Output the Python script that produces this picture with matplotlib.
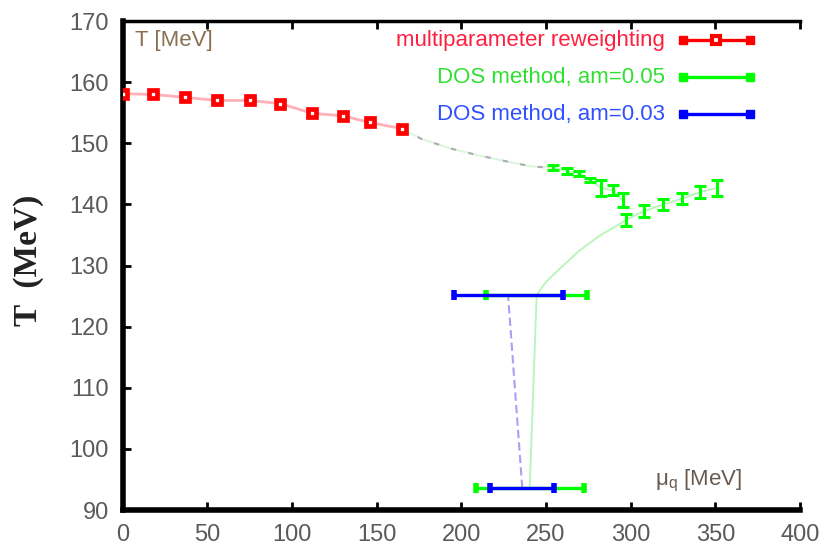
import matplotlib.pyplot as plt

# multiparameter reweighting
mu_rw = [0, 18, 37, 56, 75, 93, 112, 130, 146, 165]
T_rw = [158.1, 158.0, 157.5, 157.0, 157.0, 156.5, 154.9, 154.5, 153.4, 152.4]

# DOS method, am=0.05 (vertical errors)
mu_dos5 = [254.2, 262.5, 269.6, 275.9, 282.4, 289.6, 295.2, 297.2, 308.0, 319.2, 330.1, 341.0, 351.0]
T_dos5 = [146.0, 145.5, 145.0, 144.0, 142.7, 142.3, 140.7, 137.5, 138.9, 140.0, 140.9, 142.0, 142.7]
dT_dos5 = [0.4, 0.45, 0.4, 0.4, 1.3, 0.8, 1.2, 1.0, 1.0, 0.9, 0.9, 1.0, 1.3]

# points with horizontal errors
mu_h5 = [244.5, 240.4]
T_h5 = [125.2, 93.6]
dmu_h5 = [30.0, 32.0]
mu_h3 = [227.6, 236.0]
T_h3 = [125.2, 93.6]
dmu_h3 = [32.2, 18.8]

# guide lines
mu_link = [165, 176.5, 194.3, 209, 225.7, 241.5, 254.2]
T_link = [152.4, 150.7, 149.1, 148.1, 147.1, 146.2, 146.0]
mu_curve = [250.0, 258.2, 270.0, 281.8, 293.6]
T_curve = [127.3, 129.5, 132.5, 134.9, 136.8]

plt.rcParams['font.family'] = ['Liberation Sans', 'DejaVu Sans']

fig = plt.figure(figsize=(8.25, 5.49), dpi=100)
ax = fig.add_axes([0.1486, 0.071, 0.8211, 0.8907])

RED, GREEN, BLUE = '#ff0000', '#00ff00', '#0000ff'

# connecting lines
ax.plot(mu_rw, T_rw, color='#ffb0b8', lw=2, zorder=1)
ax.plot(mu_link, T_link, color='#dcf6dc', lw=1.5, zorder=1)
ax.plot(mu_link, T_link, color='#b4a8b8', lw=1.5, dashes=(2.5, 6), zorder=1)
ax.plot(mu_dos5[:7], T_dos5[:7], color='#c0f8c0', lw=1.5, zorder=1)
lower_mu = [mu_h5[1], mu_h5[0]] + mu_curve + mu_dos5[7:]
lower_T = [T_h5[1], T_h5[0]] + T_curve + T_dos5[7:]
ax.plot(lower_mu, lower_T, color='#b8f4b8', lw=1.3, zorder=1)
ax.plot([mu_h3[1], mu_h3[0]], [T_h3[1], T_h3[0]], color='#a8a0f4', lw=1.5,
        dashes=(4, 2), zorder=1)

# data
ax.errorbar(mu_dos5, T_dos5, yerr=dT_dos5, fmt='none', ecolor=GREEN,
            elinewidth=2.2, capsize=4.5, capthick=2.2, zorder=3)
ax.errorbar(mu_h5, T_h5, xerr=dmu_h5, fmt='none', ecolor=GREEN,
            elinewidth=2.4, capsize=3.5, capthick=4, zorder=3)
ax.errorbar(mu_h3, T_h3, xerr=dmu_h3, fmt='none', ecolor=BLUE,
            elinewidth=2.4, capsize=3.5, capthick=4, zorder=4)
ax.plot(mu_rw, T_rw, 's', ms=5.5, mfc='white', mec=RED, mew=3.4, zorder=5)

ax.set_xlim(0, 400)
ax.set_ylim(90, 170)
ax.set_xticks(range(0, 401, 50))
ax.set_yticks(range(90, 171, 10))
ax.tick_params(direction='in', length=6, width=2, labelsize=17,
               labelcolor='#5a5a5a', pad=10, top=True, right=False)
ax.spines['left'].set_linewidth(4)
ax.spines['bottom'].set_linewidth(4)
ax.spines['top'].set_linewidth(2.5)
ax.spines['right'].set_visible(False)

# legend, drawn by hand in axes coordinates
rows = [('multiparameter reweighting', '#ff2040', RED, True),
        ('DOS method, am=0.05', '#30e030', GREEN, False),
        ('DOS method, am=0.03', '#3050ff', BLUE, False)]
for i, (lab, tcol, col, mark) in enumerate(rows):
    y = 0.961 - i * 0.0757
    ax.text(0.801, y, lab, transform=ax.transAxes, ha='right', va='center',
            color=tcol, fontsize=16)
    ax.plot([0.827, 0.926], [y, y], transform=ax.transAxes, color=col, lw=2.4,
            clip_on=False)
    ax.plot([0.827, 0.926], [y, y], transform=ax.transAxes, ls='none',
            marker='s', ms=6, color=col, clip_on=False)
    if mark:
        ax.plot([0.876], [y], transform=ax.transAxes, marker='s', ms=5.5,
                mfc='white', mec=col, mew=3, clip_on=False)

ax.text(0.018, 0.961, 'T [MeV]', transform=ax.transAxes, ha='left',
        va='center', color='#8a7050', fontsize=16)
ax.text(0.786, 0.06, r'$\mathregular{\mu_q}$ [MeV]', transform=ax.transAxes,
        ha='left', va='center', color='#6a5a50', fontsize=16)

fig.text(0.034, 0.526, 'T  (MeV)', rotation=90, ha='center', va='center',
         family='Liberation Serif', weight='bold', fontsize=24, color='#222222')

fig.savefig('out.png', dpi=100)
